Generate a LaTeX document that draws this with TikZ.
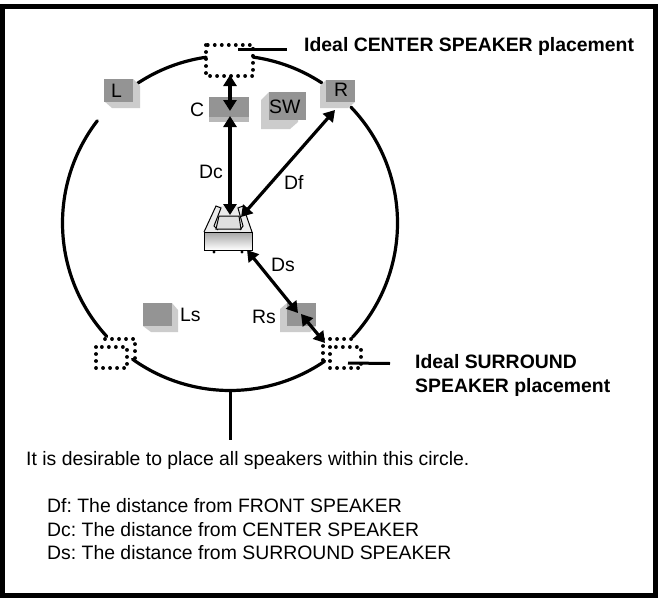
\documentclass[tikz,border=0pt]{standalone}
\usepackage{fontspec}
\setmainfont{Liberation Sans}
\usetikzlibrary{arrows.meta}
\definecolor{dk}{gray}{0.58}
\definecolor{lt}{gray}{0.8}
\frenchspacing
\tikzset{
 x=1pt,y=-1pt,
 ringline/.style={line width=3.2pt,line cap=round},
 leader/.style={line width=3pt},
 dots/.style={line width=3.8pt,line cap=round,dash pattern=on 0.01pt off 7pt},
 dbl/.style={line width=3.2pt,{Triangle[length=11pt,width=13pt]}-{Triangle[length=11pt,width=13pt]}},
 lab/.style={font=\fontsize{19.4}{22}\selectfont,inner sep=0pt,anchor=base west},
 boldlab/.style={font=\fontsize{19.4}{24}\selectfont\bfseries,inner sep=0pt,anchor=base west},
 txt/.style={font=\fontsize{19.4}{22}\selectfont,inner sep=0pt,anchor=base west},
 dkbox/.style={fill=dk,draw=none,inner sep=0pt,minimum width=29pt,minimum height=23pt},
 ltfill/.style={fill=lt,draw=none},
}
\begin{document}
\begin{tikzpicture}
\useasboundingbox (0,0) rectangle (658,597);
\fill[white] (0,0) rectangle (658,597);
\draw[line width=5pt] (2.5,6.5) rectangle (655.5,595);
% ring segments
\foreach \a/\b in {55.6/125.6,137.4/217.6,236.4/261.8,277.9/303.3,316.2/403}{
  \draw[ringline,shift={(230,223)},domain=\a:\b,samples=50,smooth] plot (\x:167.5);
}
\coordinate (stemtop) at (230,391);
\coordinate (stembot) at (230,440);
\draw[leader] (stemtop) -- (stembot);
% ideal boxes
\draw[dots] (206,45) rectangle (253,76);
\coordinate (cleadA) at (238,49); \coordinate (cleadB) at (287,49);
\draw[leader] (cleadA) -- (cleadB);
\draw[dots] (105,339) -- (135,339) -- (135,360);
\draw[dots] (96,347) rectangle (127,368);
\draw[dots] (323,360) -- (323,339) -- (355,339);
\draw[dots] (330,347) rectangle (361,368);
\coordinate (sleadA) at (348,363); \coordinate (sleadB) at (390,363.5);
\draw[leader] (sleadA) -- (sleadB);
% speakers
\fill[ltfill] (104,90) -- (133,79) -- (140,86) -- (140,108) -- (112,108) -- (104,101) -- cycle;
\node[dkbox,anchor=north west] (L) at (104,79) {};
\fill[gray!55] (209,110) rectangle (249,122);
\node[dkbox,anchor=north west,minimum width=40pt,minimum height=20pt] (C) at (209,97) {};
\fill[ltfill] (261,100) -- (269,92) -- (298,120) -- (298,122) -- (290,129) -- (261,129) -- cycle;
\node[dkbox,anchor=north west,minimum width=37pt,minimum height=28pt] (SW) at (269,92) {};
\fill[ltfill] (320,86) -- (326,80) -- (355,102) -- (348,108) -- (320,108) -- cycle;
\node[dkbox,anchor=north west,minimum height=22pt] (R) at (326,80) {};
\fill[ltfill] (143,303) -- (172,303) -- (178,310) -- (178,332) -- (151,332) -- (143,326) -- cycle;
\node[dkbox,anchor=north west] (Ls) at (143,303) {};
\fill[ltfill] (280,309) -- (287,303) -- (316,326) -- (310,332) -- (280,332) -- cycle;
\node[dkbox,anchor=north west] (Rs) at (287,303) {};
% receiver
\fill[black!8] (204,232) -- (216,206) -- (243,206) -- (252,232) -- cycle;
\shade[top color=gray!70,bottom color=white,draw=black,line width=.9pt] (204,232) rectangle (252,250);
\draw[line width=1pt] (204,232) -- (216,206) -- (221,208) -- (214,226) -- (218,230);
\draw[line width=1pt] (252,232) -- (243,206) -- (238,208) -- (243,226) -- (240,230);
\draw[line width=1pt,fill=gray!25] (216,229) -- (219,216) -- (239,216) -- (241,229) -- cycle;
\fill (214,252) circle (1.7pt) (242,252) circle (1.7pt);
% arrows
\coordinate (idealC) at (230,75);
\coordinate (cTipA) at (230,111);
\coordinate (cTipB) at (230,116);
\coordinate (rcvTop) at (230,215);
\coordinate (rTip) at (335,110);
\coordinate (rcvR) at (241,217);
\coordinate (rcvS) at (247,250);
\coordinate (rsTipA) at (298,313);
\coordinate (rsTipB) at (301,314);
\coordinate (idealS) at (325,343);
\draw[dbl] (idealC) -- (cTipA);
\draw[dbl] (cTipB) -- (rcvTop);
\draw[dbl] (rTip) -- (rcvR);
\draw[dbl] (rcvS) -- (rsTipA);
\draw[dbl] (rsTipB) -- (idealS);
% labels
\node[lab] at (111,97) {L};
\node[lab] at (190,116) {C};
\node[lab] at (269,113) {SW};
\node[lab] at (334,96) {R};
\node[lab] at (199,178) {Dc};
\node[lab] at (284,189) {Df};
\node[lab] at (271,271) {Ds};
\node[lab] at (252,323) {Rs};
\node[lab] at (180,321) {Ls};
\node[boldlab] at (304,51) {Ideal CENTER SPEAKER placement};
\node[boldlab] at (415,368) {Ideal SURROUND};
\node[boldlab] at (415,392) {SPEAKER placement};
\node[txt] at (26,465) {It is desirable to place all speakers within this circle.};
\node[txt] at (47,512) {Df: The distance from FRONT SPEAKER};
\node[txt] at (47,536) {Dc: The distance from CENTER SPEAKER};
\node[txt] at (47,559) {Ds: The distance from SURROUND SPEAKER};
\end{tikzpicture}
\end{document}
